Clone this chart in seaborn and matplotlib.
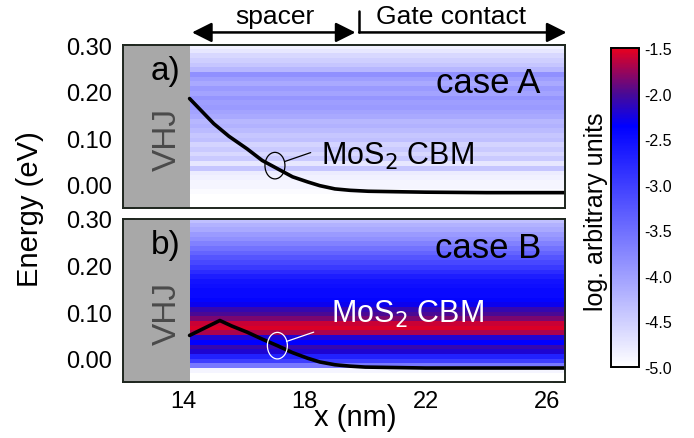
import matplotlib
matplotlib.use("Agg")
import matplotlib.pyplot as plt
import numpy as np
import seaborn as sns
from matplotlib.colors import LinearSegmentedColormap, Normalize
from matplotlib.patches import Ellipse
from matplotlib.cm import ScalarMappable

# energy levels (band centres, eV)
energy = [-0.045, -0.035, -0.025, -0.015, -0.005, 0.005, 0.015, 0.025, 0.035, 0.045,
          0.055, 0.065, 0.075, 0.085, 0.095, 0.105, 0.115, 0.125, 0.135, 0.145,
          0.155, 0.165, 0.175, 0.185, 0.195, 0.205, 0.215, 0.225, 0.235, 0.245,
          0.255, 0.265, 0.275, 0.285, 0.295]

# log. density of states per energy level
dos_a = [-5.0, -5.0, -5.0, -4.95, -4.9, -4.9, -4.85, -4.8, -4.4, -4.75,
         -4.45, -4.6, -4.45, -4.55, -4.35, -4.4, -4.3, -4.2, -4.25, -4.1,
         -4.05, -3.95, -4.0, -3.9, -4.05, -3.95, -4.1, -4.0, -3.85, -4.25,
         -4.4, -4.5, -4.6, -4.75, -4.85]
dos_b = [-5.0, -5.0, -4.9, -3.6, -3.0, -2.7, -2.2, -2.1, -2.35, -2.2,
         -1.7, -1.55, -1.6, -1.85, -2.0, -2.1, -2.3, -2.4, -2.45, -2.45,
         -2.5, -2.55, -2.65, -2.8, -2.95, -3.1, -3.25, -3.4, -3.55, -3.7,
         -3.85, -3.95, -4.1, -4.2, -4.35]

# MoS2 conduction band minimum
x_a = [14.2, 14.6, 15.0, 15.5, 16.1, 16.6, 17.2, 17.6, 18.1, 18.5, 19.0, 19.5, 20.1, 21.0,
       22.0, 24.0, 26.6]
cbm_a = [0.185, 0.158, 0.131, 0.104, 0.077, 0.052, 0.031, 0.017, 0.006, -0.002, -0.009,
         -0.012, -0.014, -0.015, -0.016, -0.017, -0.017]
x_b = [14.2, 15.2, 15.6, 16.1, 16.6, 17.1, 17.6, 18.1, 18.5, 19.0, 19.5, 20.0, 21.0, 22.0,
       24.0, 26.6]
cbm_b = [0.050, 0.082, 0.070, 0.057, 0.042, 0.028, 0.013, 0.001, -0.007, -0.013, -0.016,
         -0.018, -0.019, -0.020, -0.020, -0.020]

x_min, vhj_end, x_max = 12.0, 14.2, 26.6
spacer_end = 19.7
cbar_ticks = [-5.0, -4.5, -4.0, -3.5, -3.0, -2.5, -2.0, -1.5]

sns.set_theme(style="ticks")
plt.rcParams["font.family"] = ["Liberation Sans", "DejaVu Sans"]
plt.rcParams["axes.unicode_minus"] = False
for key in ["text.color", "axes.labelcolor", "xtick.color", "ytick.color"]:
    plt.rcParams[key] = "black"

cmap = LinearSegmentedColormap.from_list(
    "wbr", [(0.0, "#ffffff"), (0.757, "#0000ff"), (0.857, "#480a96"), (1.0, "#e8001e")])
norm = Normalize(vmin=-5.0, vmax=-1.5)

fig = plt.figure(figsize=(6.94, 4.39), dpi=100)
ax_a = fig.add_axes([0.1772, 0.5239, 0.6369, 0.3713])
ax_b = fig.add_axes([0.1772, 0.1276, 0.6369, 0.3713])
cax = fig.add_axes([0.8804, 0.1617, 0.0403, 0.7267])

frame = "#1e261e"
half = (energy[1] - energy[0]) / 2
ext = [vhj_end, x_max, energy[0] - half, energy[-1] + half]

panels = [
    (ax_a, dos_a, x_a, cbm_a, "a)", "case A", 0.22, "black",
     (17.02, 0.041), (17.35, 0.050), (18.2, 0.069), (18.53, 0.045)),
    (ax_b, dos_b, x_b, cbm_b, "b)", "case B", 0.238, "white",
     (17.1, 0.028), (17.4, 0.037), (18.3, 0.057), (18.86, 0.078)),
]

for ax, dos, xs, cbm, tag, case, case_y, acol, ell, l0, l1, tpos in panels:
    ax.imshow(np.array(dos)[:, None], extent=ext, origin="lower", aspect="auto",
              cmap=cmap, norm=norm, interpolation="nearest", zorder=1)
    ax.axvspan(x_min, vhj_end, color="#a8a8a8", zorder=2, lw=0)
    sns.lineplot(x=xs, y=cbm, ax=ax, color="black", lw=2.6, zorder=4)
    ax.set_xlim(x_min, x_max)
    ax.set_ylim(-0.05, 0.30)

    ax.set_xticks([14, 18, 22, 26])
    ax.set_xticks([16, 20, 24], minor=True)
    ax.set_yticks([0.0, 0.1, 0.2, 0.3])
    ax.set_yticks([-0.05, 0.05, 0.15, 0.25], minor=True)
    ax.yaxis.set_major_formatter(plt.FormatStrFormatter("%.2f"))
    ax.tick_params(which="both", direction="in", length=8.5, width=1.1, color=frame,
                   left=True, right=True, bottom=True, top=False, labelsize=17)
    ax.tick_params(axis="y", pad=8)
    ax.tick_params(axis="x", pad=6)
    for s in ax.spines.values():
        s.set_color(frame)
        s.set_linewidth(1.4)
        s.set_zorder(6)

    ax.text(13.4, 0.245, tag, fontsize=24, ha="center", va="center", zorder=5)
    ax.text(13.45, 0.10, "VHJ", fontsize=24, color="#4a4a4a", rotation=90,
            ha="center", va="center", zorder=5)
    ax.text(25.8, case_y, case, fontsize=25, ha="right", va="center", zorder=5)
    ax.add_patch(Ellipse(ell, 0.66, 0.057, fill=False, ec=acol, lw=0.9, zorder=5))
    ax.plot([l0[0], l1[0]], [l0[1], l1[1]], color=acol, lw=0.9, zorder=5)
    ax.text(tpos[0], tpos[1], "MoS$_2$ CBM", fontsize=22, color=acol,
            ha="left", va="baseline", zorder=5)

ax_a.set_xticklabels([])
ax_a.set_xlabel("")
ax_b.set_xlabel("")

# spacer / gate contact arrows above panel a
akw = dict(arrowstyle="<|-|>,head_length=0.6,head_width=0.3", color="black", lw=1.8,
           mutation_scale=20, shrinkA=0, shrinkB=0)
ax_a.annotate("", xy=(spacer_end - 0.02, 0.327), xytext=(vhj_end + 0.08, 0.327),
              xycoords="data", arrowprops=akw, annotation_clip=False)
ax_a.text(17.03, 0.362, "spacer", fontsize=19, ha="center", va="center", clip_on=False)
gkw = dict(akw, arrowstyle="-|>,head_length=0.6,head_width=0.3")
ax_a.annotate("", xy=(x_max + 0.05, 0.327), xytext=(spacer_end + 0.1, 0.327),
              arrowprops=gkw, annotation_clip=False)
ax_a.plot([spacer_end + 0.1, spacer_end + 0.1], [0.327, 0.372], color="black", lw=1.8,
          clip_on=False)
ax_a.text(22.83, 0.362, "Gate contact", fontsize=19, ha="center", va="center", clip_on=False)

fig.text(30 / 694, 1 - 209 / 439, "Energy (eV)", rotation=90, fontsize=21,
         ha="center", va="center")
fig.text(355 / 694, 1 - 418 / 439, "x (nm)", fontsize=21, ha="center", va="center")

cb = fig.colorbar(ScalarMappable(norm=norm, cmap=cmap), cax=cax)
cb.set_ticks(cbar_ticks)
cb.ax.yaxis.set_major_formatter(plt.FormatStrFormatter("%.1f"))
cb.outline.set_linewidth(1.4)
cb.outline.set_edgecolor("black")
cax.tick_params(direction="in", length=6, width=1.1, color="black", left=True, right=False,
                labelleft=False, labelright=True, labelsize=11.5, pad=4)
fig.text(596 / 694, 1 - 212 / 439, "log. arbitrary units", rotation=90, fontsize=18,
         ha="center", va="center")

fig.savefig("out.png", dpi=100)
